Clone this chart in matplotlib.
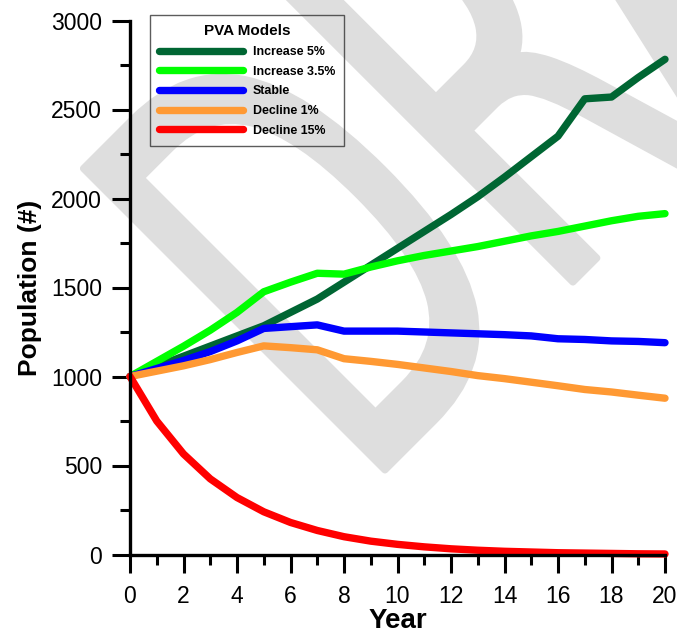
import matplotlib
matplotlib.use("Agg")
import matplotlib.pyplot as plt
from matplotlib.textpath import TextPath
from matplotlib.patches import PathPatch
from matplotlib.font_manager import FontProperties
from matplotlib.transforms import Affine2D
from matplotlib.ticker import MultipleLocator

plt.rcParams['font.family'] = ['Liberation Sans', 'DejaVu Sans']

# --- data ---
years = list(range(21))
increase_5 = [1000, 1057, 1114, 1171, 1228, 1285, 1360, 1435, 1530, 1625, 1720,
              1815, 1910, 2010, 2120, 2235, 2350, 2560, 2570, 2680, 2782]
increase_35 = [1000, 1085, 1170, 1260, 1360, 1476, 1530, 1580, 1575, 1615, 1650,
               1680, 1705, 1730, 1760, 1790, 1815, 1845, 1875, 1900, 1915]
stable = [1000, 1045, 1090, 1140, 1200, 1270, 1280, 1290, 1255, 1255, 1255,
          1250, 1245, 1240, 1235, 1228, 1212, 1208, 1200, 1197, 1190]
decline_1 = [1000, 1030, 1060, 1095, 1135, 1172, 1162, 1150, 1100, 1085, 1068,
             1048, 1028, 1005, 988, 968, 948, 927, 913, 895, 878]
decline_15 = [1000, 750, 565, 425, 320, 240, 180, 135, 100, 75, 57,
              43, 32, 24, 18, 14, 10, 8, 6, 4, 3]

series = [
    ("Increase 5%", increase_5, '#006633'),
    ("Increase 3.5%", increase_35, '#00ff00'),
    ("Stable", stable, '#0000ff'),
    ("Decline 1%", decline_1, '#ff9933'),
    ("Decline 15%", decline_15, '#ff0000'),
]

W, H = 677, 638
fig = plt.figure(figsize=(W / 100, H / 100), dpi=100)
ax = fig.add_axes([130 / W, 1 - 554.5 / H, 535 / W, 534 / H])
ax.patch.set_visible(False)

# --- DRAFT watermark (condensed, rotated 45 deg) ---
tp = TextPath((0, 0), "DRAFT", size=1, prop=FontProperties(family='DejaVu Sans'))
s = 585
wm = Affine2D().scale(0.59 * s, s).rotate_deg(45).translate(361, 144)
patch = PathPatch(tp, facecolor='#dedede', edgecolor='#dedede', lw=5,
                  joinstyle='round',
                  transform=wm + Affine2D().scale(1 / W, 1 / H) + fig.transFigure,
                  zorder=-1)
fig.add_artist(patch)

for label, vals, col in series:
    ax.plot(years, vals, color=col, lw=5.3, label=label,
            solid_capstyle='round', solid_joinstyle='round', clip_on=False)

ax.set_xlim(0, 20)
ax.set_ylim(0, 3000)
ax.xaxis.set_major_locator(MultipleLocator(2))
ax.xaxis.set_minor_locator(MultipleLocator(1))
ax.yaxis.set_major_locator(MultipleLocator(500))
ax.yaxis.set_minor_locator(MultipleLocator(250))

for sp in ['top', 'right']:
    ax.spines[sp].set_visible(False)
for sp in ['left', 'bottom']:
    ax.spines[sp].set_linewidth(2.4)

ax.tick_params(which='major', length=13, width=2.2, labelsize=16.5, direction='out')
ax.tick_params(which='minor', length=7, width=2.2, direction='out')
ax.tick_params(axis='y', which='major', pad=7)
ax.tick_params(axis='x', which='major', pad=9)

ax.set_xlabel("Year", fontsize=20, fontweight='bold', labelpad=0)
ax.set_ylabel("Population (#)", fontsize=19, fontweight='bold', labelpad=7)

leg = ax.legend(loc='upper left', bbox_to_anchor=(20 / 535, 539.5 / 534),
                borderaxespad=0, title="PVA Models",
                title_fontproperties={'weight': 'bold', 'size': 11},
                prop={'weight': 'bold', 'size': 8.9}, frameon=True, fancybox=False,
                handlelength=6.8, handletextpad=0.75, labelspacing=0.62,
                borderpad=0.75)
leg.get_frame().set_facecolor('none')
leg.get_frame().set_edgecolor('#333333')
leg.get_frame().set_linewidth(1)
for h in leg.get_lines():
    h.set_linewidth(5.3)
    h.set_solid_capstyle('round')

fig.savefig("out.png", dpi=100)
